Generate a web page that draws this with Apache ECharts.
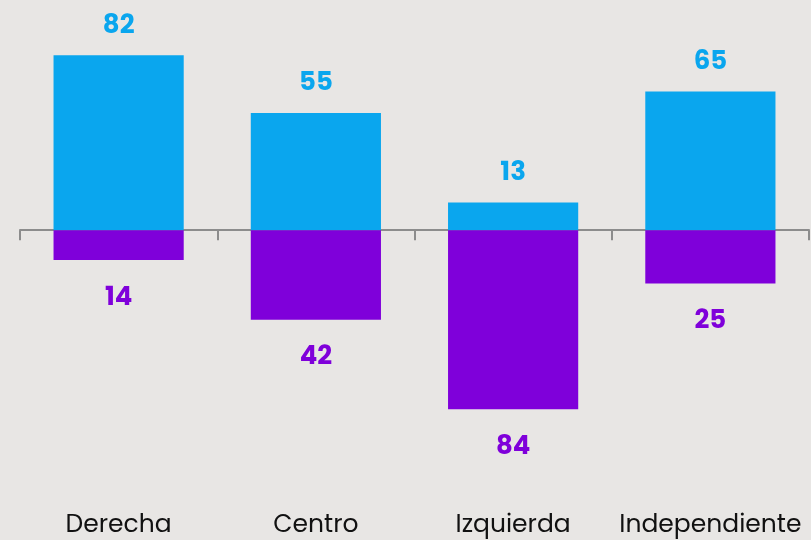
<!DOCTYPE html>
<html>
<head>
<meta charset="utf-8">
<script src="https://cdn.jsdelivr.net/npm/echarts@6/dist/echarts.min.js"></script>
<style>
    html, body { margin: 0; padding: 0; background: #e8e6e4; }
    #chart { width: 811px; height: 540px; }
</style>
</head>
<body>
<div id="chart"></div>
<script>
    var categories = ['Derecha', 'Centro', 'Izquierda', 'Independiente'];
    var positiveValues = [82, 55, 13, 65];
    var negativeValues = [14, 42, 84, 25];

    var blue = '#0aa6ee';
    var purple = '#7f00da';

    var myChart = echarts.init(document.getElementById('chart'));
    myChart.setOption({
        backgroundColor: '#e8e6e4',
        animation: false,
        grid: {
            left: 20,
            right: 2,
            top: 17,
            bottom: 54
        },
        xAxis: [{
            type: 'category',
            data: categories,
            axisLine: {
                onZero: true,
                lineStyle: { color: '#8c8c8c', width: 2 }
            },
            axisTick: {
                show: true,
                length: 10,
                lineStyle: { color: '#8c8c8c', width: 2 }
            },
            axisLabel: { show: false }
        }, {
            type: 'category',
            data: categories,
            position: 'bottom',
            axisLine: { show: false, onZero: false },
            axisTick: { show: false },
            axisLabel: {
                interval: 0,
                hideOverlap: false,
                color: '#111',
                fontSize: 25,
                fontFamily: 'Poppins, Inter, sans-serif',
                margin: 27
            }
        }],
        yAxis: {
            type: 'value',
            min: -120,
            max: 100,
            show: false,
            splitLine: { show: false }
        },
        series: [{
            name: 'positive',
            type: 'bar',
            stack: 'total',
            barWidth: '66%',
            data: positiveValues,
            itemStyle: { color: blue },
            label: {
                show: true,
                position: 'top',
                distance: 16,
                color: blue,
                fontSize: 26,
                fontWeight: 'bold',
                fontFamily: 'Poppins, Inter, sans-serif'
            }
        }, {
            name: 'negative',
            type: 'bar',
            stack: 'total',
            barWidth: '66%',
            data: negativeValues.map(function (v) { return -v; }),
            itemStyle: { color: purple },
            label: {
                show: true,
                position: 'bottom',
                distance: 25,
                color: purple,
                fontSize: 26,
                fontWeight: 'bold',
                fontFamily: 'Poppins, Inter, sans-serif',
                formatter: function (p) { return Math.abs(p.value); }
            }
        }]
    });
</script>
</body>
</html>
